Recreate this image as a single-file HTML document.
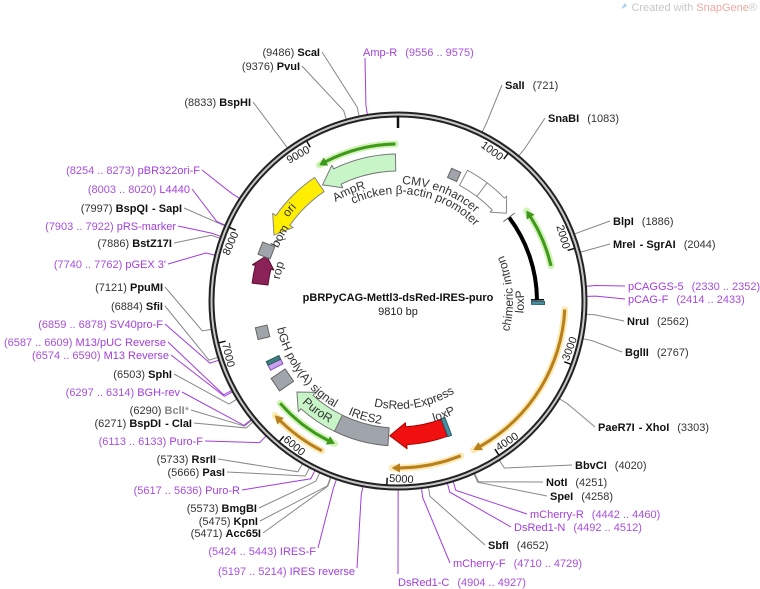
<!DOCTYPE html>
<html><head><meta charset="utf-8"><style>
html,body{margin:0;padding:0;background:#fff;}
svg{display:block;font-family:"Liberation Sans","DejaVu Sans",sans-serif;}
.en{font-size:11px;fill:#111;font-weight:bold;}
.nm{font-size:11px;fill:#333;font-weight:normal;}
.pr{font-size:11px;fill:#a23ddc;}
.pn{font-size:11px;fill:#a84fdc;}
.ft{font-size:12px;fill:#333;}
.tk{font-size:11px;fill:#222;}
</style></head><body>
<svg id="s" width="760" height="589" viewBox="0 0 760 589" xmlns="http://www.w3.org/2000/svg">
<defs>
<path id="t107" d="M398,408 A107,107 0 1,1 398,194 A107,107 0 1,1 398,408"/>
<path id="t117" d="M398,418 A117,117 0 1,1 398,184 A117,117 0 1,1 398,418"/>
<path id="t120" d="M398,421 A120,120 0 1,1 398,181 A120,120 0 1,1 398,421"/>
<path id="t131" d="M398,432 A131,131 0 1,1 398,170 A131,131 0 1,1 398,432"/>
<path id="t138" d="M398,439 A138,138 0 1,1 398,163 A138,138 0 1,1 398,439"/>
<path id="b108" d="M398,193 A108,108 0 1,0 398,409 A108,108 0 1,0 398,193"/>
<path id="b115" d="M398,186 A115,115 0 1,0 398,416 A115,115 0 1,0 398,186"/>
<path id="b124" d="M398,177 A124,124 0 1,0 398,425 A124,124 0 1,0 398,177"/>
<path id="b126" d="M398,175 A126,126 0 1,0 398,427 A126,126 0 1,0 398,175"/>
<path id="b128" d="M398,173 A128,128 0 1,0 398,429 A128,128 0 1,0 398,173"/>
<path id="b140" d="M398,161 A140,140 0 1,0 398,441 A140,140 0 1,0 398,161"/>
</defs>

<text x="757" y="11" text-anchor="end" font-size="11" fill="#c4c8cc">Created with <tspan fill="#f0a8a0">SnapGene</tspan>®</text>
<path d="M621,9 l4,-6 l2,3 z" fill="#a8d0ec"/>

<g id="conn"></g>

<circle cx="398" cy="301" r="186.5" fill="none" stroke="#222" stroke-width="6"/>
<circle cx="398" cy="301" r="186.5" fill="none" stroke="#c8c8c8" stroke-width="2"/>
<g id="geo"></g>

<text class="tk" transform="rotate(36.7 398 301)" x="396" y="128" text-anchor="end">1000</text>
<text class="tk" transform="rotate(73.4 398 301)" x="396" y="128" text-anchor="end">2000</text>
<text class="tk" transform="rotate(-69.9 398 301)" x="400" y="482" text-anchor="start">3000</text>
<text class="tk" transform="rotate(-33.2 398 301)" x="400" y="482" text-anchor="start">4000</text>
<text class="tk" transform="rotate(3.5 398 301)" x="400" y="482" text-anchor="start">5000</text>
<text class="tk" transform="rotate(40.2 398 301)" x="400" y="482" text-anchor="start">6000</text>
<text class="tk" transform="rotate(76.9 398 301)" x="400" y="482" text-anchor="start">7000</text>
<text class="tk" transform="rotate(293.6 398 301)" x="396" y="128" text-anchor="end">8000</text>
<text class="tk" transform="rotate(330.3 398 301)" x="396" y="128" text-anchor="end">9000</text>

<text class="ft"><textPath href="#t117" startOffset="56%" text-anchor="middle">CMV enhancer</textPath></text>
<text class="ft"><textPath href="#t107" startOffset="52.9%" text-anchor="middle">chicken β-actin promoter</textPath></text>
<text class="ft"><textPath href="#t117" startOffset="43.3%" text-anchor="middle">AmpR</textPath></text>
<text class="ft"><textPath href="#t138" startOffset="36.1%" text-anchor="middle">ori</textPath></text>
<text class="ft"><textPath href="#t131" startOffset="33%" text-anchor="middle">bom</textPath></text>
<text class="ft"><textPath href="#t120" startOffset="29%" text-anchor="middle">rop</textPath></text>
<text class="ft"><textPath href="#b115" startOffset="76.1%" text-anchor="middle">chimeric intron</textPath></text>
<text class="ft"><textPath href="#b126" startOffset="74.9%" text-anchor="middle">loxP</textPath></text>
<text class="ft"><textPath href="#b108" startOffset="52.6%" text-anchor="middle">DsRed-Express</textPath></text>
<text class="ft"><textPath href="#b126" startOffset="56.1%" text-anchor="middle">loxP</textPath></text>
<text class="ft"><textPath href="#b124" startOffset="45.6%" text-anchor="middle">IRES2</textPath></text>
<text class="ft"><textPath href="#b140" startOffset="39.9%" text-anchor="middle">PuroR</textPath></text>
<text class="ft"><textPath href="#b124" startOffset="35%" text-anchor="middle">bGH poly(A) signal</textPath></text>

<text x="398" y="301" text-anchor="middle" font-size="11" font-weight="bold" fill="#111">pBRPyCAG-Mettl3-dsRed-IRES-puro</text>
<text x="398" y="315" text-anchor="middle" font-size="11" fill="#222">9810 bp</text>

<text x="505" y="89"><tspan class="en">SalI</tspan><tspan class="nm" dx="8">(721)</tspan></text>
<text x="548" y="122"><tspan class="en">SnaBI</tspan><tspan class="nm" dx="8">(1083)</tspan></text>
<text x="613" y="225"><tspan class="en">BlpI</tspan><tspan class="nm" dx="8">(1886)</tspan></text>
<text x="613" y="248"><tspan class="en">MreI</tspan><tspan class="en" dx="4">- SgrAI</tspan><tspan class="nm" dx="8">(2044)</tspan></text>
<text x="628" y="290"><tspan class="pr">pCAGGS-5</tspan><tspan class="pn" dx="8">(2330 .. 2352)</tspan></text>
<text x="628" y="303"><tspan class="pr">pCAG-F</tspan><tspan class="pn" dx="8">(2414 .. 2433)</tspan></text>
<text x="627" y="325"><tspan class="en">NruI</tspan><tspan class="nm" dx="8">(2562)</tspan></text>
<text x="625" y="356"><tspan class="en">BglII</tspan><tspan class="nm" dx="8">(2767)</tspan></text>
<text x="598" y="431"><tspan class="en">PaeR7I</tspan><tspan class="en" dx="4">- XhoI</tspan><tspan class="nm" dx="8">(3303)</tspan></text>
<text x="575" y="469"><tspan class="en">BbvCI</tspan><tspan class="nm" dx="8">(4020)</tspan></text>
<text x="546" y="486"><tspan class="en">NotI</tspan><tspan class="nm" dx="8">(4251)</tspan></text>
<text x="550" y="500"><tspan class="en">SpeI</tspan><tspan class="nm" dx="8">(4258)</tspan></text>
<text x="530" y="518"><tspan class="pr">mCherry-R</tspan><tspan class="pn" dx="8">(4442 .. 4460)</tspan></text>
<text x="514" y="531"><tspan class="pr">DsRed1-N</tspan><tspan class="pn" dx="8">(4492 .. 4512)</tspan></text>
<text x="488" y="549"><tspan class="en">SbfI</tspan><tspan class="nm" dx="8">(4652)</tspan></text>
<text x="453" y="567"><tspan class="pr">mCherry-F</tspan><tspan class="pn" dx="8">(4710 .. 4729)</tspan></text>
<text x="398" y="586"><tspan class="pr">DsRed1-C</tspan><tspan class="pn" dx="8">(4904 .. 4927)</tspan></text>
<text x="363" y="56"><tspan class="pr">Amp-R</tspan><tspan class="pn" dx="8">(9556 .. 9575)</tspan></text>

<g text-anchor="end">
<text x="355" y="575" class="pr"><tspan class="pn">(5197 .. 5214)</tspan> IRES reverse</text>
<text x="316" y="555" class="pr"><tspan class="pn">(5424 .. 5443)</tspan> IRES-F</text>
<text x="261" y="537"><tspan class="nm">(5471) </tspan><tspan class="en">Acc65I</tspan></text>
<text x="258" y="525"><tspan class="nm">(5475) </tspan><tspan class="en">KpnI</tspan></text>
<text x="257" y="512"><tspan class="nm">(5573) </tspan><tspan class="en">BmgBI</tspan></text>
<text x="240" y="494" class="pr"><tspan class="pn">(5617 .. 5636)</tspan> Puro-R</text>
<text x="225" y="476"><tspan class="nm">(5666) </tspan><tspan class="en">PasI</tspan></text>
<text x="216" y="463"><tspan class="nm">(5733) </tspan><tspan class="en">RsrII</tspan></text>
<text x="203" y="445" class="pr"><tspan class="pn">(6113 .. 6133)</tspan> Puro-F</text>
<text x="192" y="427"><tspan class="nm">(6271) </tspan><tspan class="en">BspDI</tspan><tspan class="en" dx="4">- ClaI</tspan></text>
<text x="189" y="414"><tspan class="nm">(6290) </tspan><tspan class="en" style="fill:#888">BclI</tspan><tspan class="nm" style="fill:#888">*</tspan></text>
<text x="180" y="396" class="pr"><tspan class="pn">(6297 .. 6314)</tspan> BGH-rev</text>
<text x="172" y="378"><tspan class="nm">(6503) </tspan><tspan class="en">SphI</tspan></text>
<text x="169" y="359" class="pr"><tspan class="pn">(6574 .. 6590)</tspan> M13 Reverse</text>
<text x="166" y="346" class="pr"><tspan class="pn">(6587 .. 6609)</tspan> M13/pUC Reverse</text>
<text x="163" y="328" class="pr"><tspan class="pn">(6859 .. 6878)</tspan> SV40pro-F</text>
<text x="163" y="310"><tspan class="nm">(6884) </tspan><tspan class="en">SfiI</tspan></text>
<text x="163" y="291"><tspan class="nm">(7121) </tspan><tspan class="en">PpuMI</tspan></text>
<text x="166" y="268" class="pr"><tspan class="pn">(7740 .. 7762)</tspan> pGEX 3'</text>
<text x="172" y="247"><tspan class="nm">(7886) </tspan><tspan class="en">BstZ17I</tspan></text>
<text x="176" y="230" class="pr"><tspan class="pn">(7903 .. 7922)</tspan> pRS-marker</text>
<text x="182" y="212"><tspan class="nm">(7997) </tspan><tspan class="en">BspQI</tspan><tspan class="en" dx="4">- SapI</tspan></text>
<text x="190" y="193" class="pr"><tspan class="pn">(8003 .. 8020)</tspan> L4440</text>
<text x="200" y="174" class="pr"><tspan class="pn">(8254 .. 8273)</tspan> pBR322ori-F</text>
<text x="251" y="106"><tspan class="nm">(8833) </tspan><tspan class="en">BspHI</tspan></text>
<text x="300" y="70"><tspan class="nm">(9376) </tspan><tspan class="en">PvuI</tspan></text>
<text x="320" y="56"><tspan class="nm">(9486) </tspan><tspan class="en">ScaI</tspan></text>
</g>
</svg>
<script>
(function(){
var NS="http://www.w3.org/2000/svg",CX=398,CY=301;
function P(t,r){var a=t*Math.PI/180;return [(CX+r*Math.sin(a)).toFixed(2),(CY-r*Math.cos(a)).toFixed(2)];}
function el(g,tag,at){var e=document.createElementNS(NS,tag);for(var k in at)e.setAttribute(k,at[k]);document.getElementById(g).appendChild(e);return e;}
function arc(r,a1,a2){var p1=P(a1,r),p2=P(a2,r);return "M"+p1+" A"+r+","+r+" 0 "+((a2-a1)>180?1:0)+" 1 "+p2;}
function block(r1,r2,a1,a2,dir,h,e,fill,stroke,sw){
 var m=(r1+r2)/2,d;
 if(dir>0){var b=a2-h;d="M"+P(a1,r2)+" A"+r2+","+r2+" 0 0 1 "+P(b,r2)+" L"+P(b,r2+e)+" L"+P(a2,m)+" L"+P(b,r1-e)+" L"+P(b,r1)+" A"+r1+","+r1+" 0 0 0 "+P(a1,r1)+"Z";}
 else if(dir<0){var b=a1+h;d="M"+P(a2,r2)+" A"+r2+","+r2+" 0 0 0 "+P(b,r2)+" L"+P(b,r2+e)+" L"+P(a1,m)+" L"+P(b,r1-e)+" L"+P(b,r1)+" A"+r1+","+r1+" 0 0 1 "+P(a2,r1)+"Z";}
 else {d="M"+P(a1,r2)+" A"+r2+","+r2+" 0 0 1 "+P(a2,r2)+" L"+P(a2,r1)+" A"+r1+","+r1+" 0 0 0 "+P(a1,r1)+"Z";}
 el("geo","path",{d:d,fill:fill,stroke:stroke,"stroke-width":sw||1,"stroke-linejoin":"round"});
}
function thin(r,a1,a2,dir,col,halo){
 el("geo","path",{d:arc(r,a1,a2),fill:"none",stroke:halo,"stroke-width":7,"stroke-linecap":"round",opacity:0.8});
 block(r-1.3,r+1.3,a1,a2,dir,2.6,3,col,col,0.5);
}
function box(t,r,w,h,fill,stroke){var p=P(t,r);el("geo","rect",{x:-w/2,y:-h/2,width:w,height:h,fill:fill,stroke:stroke,"stroke-width":1,transform:"translate("+p+") rotate("+t+")"});}
for(var i=1;i<=9;i++){var t=i*1000/9810*360;var a=P(t,184),b=P(t,177);el("geo","line",{x1:a[0],y1:a[1],x2:b[0],y2:b[1],stroke:"#111","stroke-width":1.5});}
el("geo","line",{x1:398,y1:116,x2:398,y2:128,stroke:"#111","stroke-width":2.5});
block(131,148,28,51,1,5,3,"#fff","#888",1);
var q1=P(37,131),q2=P(37,148);el("geo","line",{x1:q1[0],y1:q1[1],x2:q2[0],y2:q2[1],stroke:"#888","stroke-width":1});
box(24,138,10,10,"#a0a4ab","#666");
el("geo","path",{d:arc(139,53,89.5),fill:"none",stroke:"#000","stroke-width":4});
var c1=P(53,132),c2=P(53,146);el("geo","line",{x1:c1[0],y1:c1[1],x2:c2[0],y2:c2[1],stroke:"#666","stroke-width":1});
var c3=P(89.5,133),c4=P(89.5,146);el("geo","line",{x1:c3[0],y1:c3[1],x2:c4[0],y2:c4[1],stroke:"#000","stroke-width":1.5});
box(90.8,140,3,13,"#4a8fa0","#2d6070");
thin(157,55,77,-1,"#3f9a1c","#c6f0a6");
thin(167,93,153,1,"#b8801c","#fde3a0");
thin(167,158,182,1,"#b8801c","#fde3a0");
block(126,144,160,183.5,1,7,4,"#f01010","#a00",1);
box(159,135,4,19,"#4a8fa0","#2d6070");
block(127,145,184,206,0,0,0,"#a0a4ab","#666",1);
block(127,145,206,228,1,6,4,"#c8f5c8","#777",1);
thin(156,204,229,-1,"#3f9a1c","#c6f0a6");
thin(168,207,227,1,"#b8801c","#fde3a0");
box(235.7,140,15,17,"#a0a4ab","#666");
box(242.7,138,6,14,"#c9a0f0","#8a55c0");
box(244.5,138,4,14,"#3f7f80","#2a5a5a");
box(257,139,12,12,"#a0a4ab","#666");
block(131,147,277,289,1,5,3,"#8b2257","#5a1035",1);
box(291,141,13,13,"#a0a4ab","#666");
var b1=P(299,128),b2=P(296,137);el("geo","line",{x1:b1[0],y1:b1[1],x2:b2[0],y2:b2[1],stroke:"#666","stroke-width":1});
block(132,149,298,326,-1,7,4,"#ffee00","#888",1);
block(130,147,327,359,-1,7,4,"#c8f5c8","#777",1);
thin(157,330,359,-1,"#3f9a1c","#c6f0a6");
var L=[[721,502,85,0],[1083,545,118,0],[1886,610,221,0],[2044,610,244,0],[2330,625,286,1],[2414,625,299,1],[2562,624,321,0],[2767,622,352,0],[3303,595,427,0],[4020,572,465,0],[4251,543,482,0],[4258,547,496,0],[4442,527,514,1],[4492,511,527,1],[4652,485,545,0],[4710,450,563,1],[4904,398,574,1],[9556,365,58,1],
[5197,357,568,1],[5424,318,548,1],[5471,263,533,0],[5475,260,521,0],[5573,259,508,0],[5617,242,490,1],[5666,227,472,0],[5733,218,459,0],[6113,205,441,1],[6271,194,423,0],[6290,191,410,0],[6297,182,392,1],[6503,174,374,0],[6574,171,355,1],[6587,168,342,1],[6859,165,324,1],[6884,165,306,0],[7121,165,287,0],[7740,168,264,1],[7886,174,243,0],[7903,178,226,1],[7997,184,208,0],[8003,192,189,1],[8254,202,170,1],[8833,253,102,0],[9376,302,66,0],[9486,322,52,0]];
L.forEach(function(l){var t=l[0]/9810*360,a=P(t,198),b=P(t,189),c=l[3]?"#a23ddc":"#888";
 el("conn","polyline",{points:l[1]+","+l[2]+" "+a+" "+b,fill:"none",stroke:c,"stroke-width":1});});
})();
</script>
</body></html>
